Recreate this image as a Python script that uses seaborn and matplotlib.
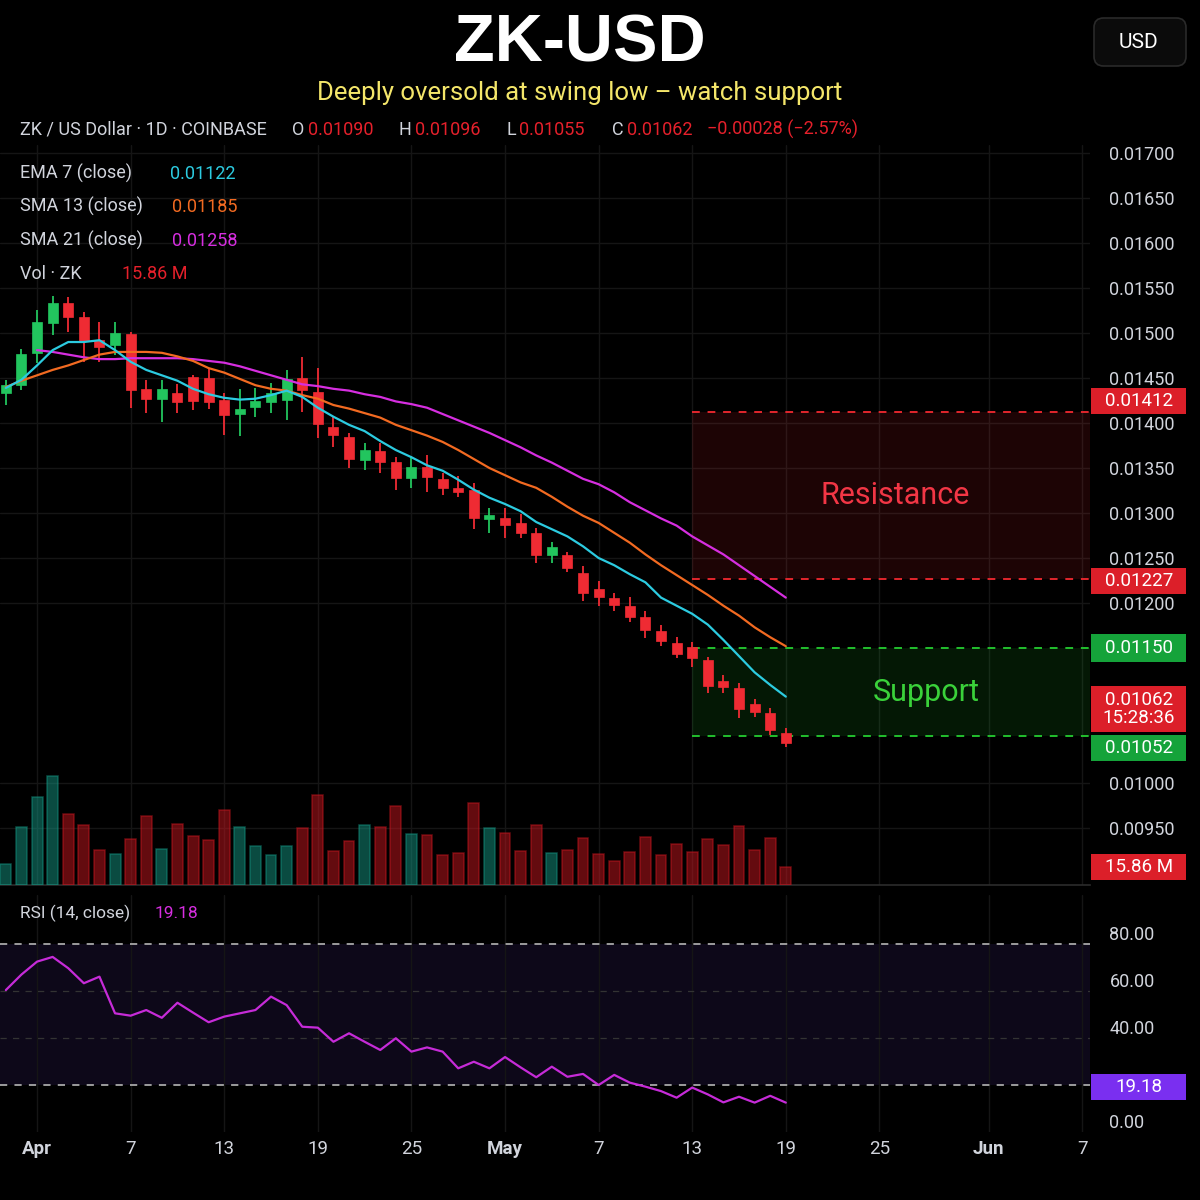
import matplotlib
matplotlib.use("Agg")
import matplotlib.pyplot as plt
from matplotlib.patches import Rectangle, FancyBboxPatch
from matplotlib.transforms import blended_transform_factory, Affine2D
import numpy as np
import pandas as pd
import seaborn as sns

# ZK-USD daily candles
dates = pd.date_range("2025-03-30", "2025-05-19", freq="D")

opens = [0.01433, 0.01442, 0.01478, 0.01511, 0.01533, 0.01518, 0.01492, 0.01487, 0.01499, 0.01438,
         0.01427, 0.01433, 0.01451, 0.01450, 0.01426, 0.01410, 0.01418, 0.01423, 0.01426, 0.01450,
         0.01434, 0.01396, 0.01384, 0.01359, 0.01369, 0.01357, 0.01339, 0.01351, 0.01338, 0.01328,
         0.01326, 0.01293, 0.01294, 0.01289, 0.01278, 0.01253, 0.01253, 0.01233, 0.01216, 0.01206,
         0.01197, 0.01184, 0.01169, 0.01156, 0.01151, 0.01137, 0.01113, 0.01106, 0.01088, 0.01078,
         0.01056]
highs = [0.01448, 0.01482, 0.01526, 0.01541, 0.01540, 0.01523, 0.01512, 0.01512, 0.01501, 0.01448,
         0.01448, 0.01443, 0.01453, 0.01460, 0.01433, 0.01438, 0.01439, 0.01444, 0.01459, 0.01473,
         0.01461, 0.01408, 0.01389, 0.01378, 0.01378, 0.01362, 0.01363, 0.01364, 0.01344, 0.01341,
         0.01333, 0.01306, 0.01306, 0.01299, 0.01283, 0.01268, 0.01257, 0.01241, 0.01224, 0.01211,
         0.01207, 0.01191, 0.01176, 0.01162, 0.01157, 0.01140, 0.01120, 0.01111, 0.01093, 0.01083,
         0.01061]
lows = [0.01420, 0.01437, 0.01467, 0.01498, 0.01501, 0.01468, 0.01468, 0.01476, 0.01417, 0.01411,
        0.01401, 0.01411, 0.01414, 0.01416, 0.01387, 0.01386, 0.01407, 0.01411, 0.01403, 0.01412,
        0.01383, 0.01373, 0.01350, 0.01348, 0.01344, 0.01326, 0.01328, 0.01323, 0.01320, 0.01318,
        0.01282, 0.01278, 0.01272, 0.01272, 0.01244, 0.01244, 0.01234, 0.01202, 0.01197, 0.01191,
        0.01179, 0.01161, 0.01152, 0.01139, 0.01129, 0.01100, 0.01100, 0.01072, 0.01073, 0.01053,
        0.01040]
closes = [0.01442, 0.01477, 0.01512, 0.01533, 0.01518, 0.01491, 0.01484, 0.01500, 0.01437, 0.01427,
          0.01438, 0.01423, 0.01424, 0.01423, 0.01409, 0.01416, 0.01424, 0.01433, 0.01449, 0.01437,
          0.01399, 0.01387, 0.01360, 0.01370, 0.01357, 0.01339, 0.01351, 0.01340, 0.01328, 0.01323,
          0.01294, 0.01298, 0.01287, 0.01278, 0.01253, 0.01262, 0.01239, 0.01211, 0.01207, 0.01198,
          0.01184, 0.01170, 0.01158, 0.01143, 0.01139, 0.01108, 0.01107, 0.01082, 0.01079, 0.01059,
          0.01044]

# moving averages as drawn on the chart
ema7 = [0.01439, 0.01448, 0.01464, 0.01481, 0.01490, 0.01490, 0.01492, 0.01481, 0.01468, 0.01459,
        0.01453, 0.01447, 0.01438, 0.01432, 0.01428, 0.01426, 0.01427, 0.01431, 0.01436, 0.01429,
        0.01417, 0.01407, 0.01398, 0.01391, 0.01380, 0.01370, 0.01362, 0.01353, 0.01347, 0.01337,
        0.01326, 0.01317, 0.01310, 0.01302, 0.01290, 0.01282, 0.01274, 0.01263, 0.01250, 0.01242,
        0.01232, 0.01223, 0.01206, 0.01197, 0.01188, 0.01176, 0.01159, 0.01141, 0.01123, 0.01109,
        0.01096]
sma13 = [0.01440, 0.01447, 0.01453, 0.01459, 0.01464, 0.01470, 0.01476, 0.01479, 0.01479, 0.01479,
         0.01478, 0.01474, 0.01469, 0.01461, 0.01456, 0.01449, 0.01442, 0.01438, 0.01436, 0.01431,
         0.01427, 0.01420, 0.01416, 0.01411, 0.01406, 0.01398, 0.01392, 0.01386, 0.01379, 0.01370,
         0.01360, 0.01350, 0.01342, 0.01334, 0.01328, 0.01318, 0.01307, 0.01297, 0.01289, 0.01278,
         0.01267, 0.01254, 0.01242, 0.01231, 0.01220, 0.01209, 0.01197, 0.01186, 0.01173, 0.01162,
         0.01152]
sma21 = [np.nan, np.nan,
         0.01481, 0.01479, 0.01476, 0.01473, 0.01471, 0.01471, 0.01472, 0.01472, 0.01472, 0.01472,
         0.01471, 0.01469, 0.01467, 0.01463, 0.01458, 0.01453, 0.01448, 0.01443, 0.01441, 0.01438,
         0.01436, 0.01432, 0.01429, 0.01424, 0.01421, 0.01417, 0.01410, 0.01403, 0.01396, 0.01389,
         0.01381, 0.01373, 0.01364, 0.01356, 0.01347, 0.01338, 0.01332, 0.01323, 0.01312, 0.01303,
         0.01294, 0.01286, 0.01274, 0.01264, 0.01254, 0.01242, 0.01230, 0.01218, 0.01206]

volume_m = [18.5, 51.1, 77.5, 96.0, 62.6, 52.9, 30.8, 27.3, 40.5, 60.8,
            31.7, 53.7, 43.2, 39.6, 66.1, 51.1, 34.4, 26.4, 34.4, 50.2,
            79.3, 30.0, 38.8, 52.9, 51.1, 69.6, 44.9, 44.1, 26.4, 28.2,
            72.2, 50.2, 45.8, 30.0, 52.9, 28.2, 30.8, 41.4, 27.3, 21.1,
            29.1, 42.3, 26.4, 36.1, 29.1, 40.5, 35.2, 52.0, 30.8, 41.4,
            15.86]

rsi = [60.4, 67.0, 72.5, 74.5, 69.7, 63.3, 66.1, 50.5, 49.5, 51.9,
       48.6, 55.0, 50.8, 46.7, 49.1, 50.5, 51.9, 57.6, 54.0, 44.8,
       44.4, 38.4, 42.0, 38.4, 34.9, 39.9, 34.2, 36.0, 34.2, 27.1,
       29.9, 27.1, 31.9, 27.5, 23.3, 27.8, 23.5, 24.7, 20.0, 24.3,
       21.0, 19.3, 17.4, 14.6, 18.9, 16.0, 12.6, 15.0, 12.5, 15.4,
       12.5]

tick_dates = pd.to_datetime(["2025-04-01", "2025-04-07", "2025-04-13", "2025-04-19", "2025-04-25",
                             "2025-05-01", "2025-05-07", "2025-05-13", "2025-05-19", "2025-05-25",
                             "2025-06-01", "2025-06-07"])
price_ticks = [0.0095, 0.0100, 0.0120, 0.0125, 0.0130, 0.0135, 0.0140,
               0.0145, 0.0150, 0.0155, 0.0160, 0.0165, 0.0170]
rsi_ticks = [0, 40, 60, 80]   # 20 sits under the RSI value tag
rsi_bands = (20, 80)

resistance = (0.01227, 0.01412)
support = (0.01052, 0.01150)
zone_start = pd.Timestamp("2025-05-13")
last_price = 0.01062
last_vol = 15.86
last_rsi = 19.18

df = pd.DataFrame({"date": dates, "open": opens, "high": highs, "low": lows, "close": closes,
                   "ema7": ema7, "sma13": sma13, "sma21": sma21, "vol": volume_m, "rsi": rsi})

# colours
BG = "#000000"
TXT = "#d1d4dc"
GRID = "#151515"
UP = "#22c55e"
DOWN = "#ef2b33"
EMA_C = "#2ccbe0"
SMA13_C = "#f26a21"
SMA21_C = "#d62ee0"
RED_TAG = "#dc1f29"
GREEN_TAG = "#15a33a"
RED_TXT = "#e5202b"

sns.set_theme(style="dark", rc={"axes.facecolor": BG, "figure.facecolor": BG,
                                "grid.color": GRID, "text.color": TXT,
                                "xtick.color": TXT, "ytick.color": TXT})
plt.rcParams["font.family"] = ["Roboto", "DejaVu Sans"]

W = H = 1200
fig = plt.figure(figsize=(12, 12), dpi=100)


def fx(x):
    return x / W


def fy(y):
    return 1 - y / H


ax = fig.add_axes([0, fy(885), fx(1090), (885 - 145) / H])
axv = ax.twinx()
axr = fig.add_axes([0, fy(1132), fx(1090), (1132 - 895) / H], sharex=ax)

x_left = dates[0] - pd.Timedelta(hours=9)
x_right = pd.Timestamp("2025-06-07 12:00")

# zones
for (lo, hi), c in [(resistance, "#e3262d"), (support, "#22c02e")]:
    ax.fill_between([zone_start, x_right], lo, hi, color=c, alpha=0.13, lw=0, zorder=1)
    ax.hlines([lo, hi], zone_start, x_right, colors=c, linestyles=(0, (4, 4)), lw=1.4, zorder=2)

# candles
up = df["close"] >= df["open"]
cols = np.where(up, UP, DOWN)
ax.vlines(df["date"], df["low"], df["high"], colors=cols, lw=1.3, zorder=3)
body = (df["close"] - df["open"]).abs().clip(lower=0.00003)
ax.bar(df["date"], body, bottom=np.minimum(df["open"], df["close"]), width=0.64,
       color=cols, edgecolor=cols, lw=0.5, zorder=4)

# moving averages
sns.lineplot(data=df, x="date", y="sma21", ax=ax, color=SMA21_C, lw=1.6, zorder=5)
sns.lineplot(data=df, x="date", y="sma13", ax=ax, color=SMA13_C, lw=1.6, zorder=5)
sns.lineplot(data=df, x="date", y="ema7", ax=ax, color=EMA_C, lw=1.6, zorder=6)

ax.text(pd.Timestamp("2025-05-26"), sum(resistance) / 2, "Resistance", color="#f23645",
        fontsize=22, ha="center", va="center", zorder=6)
ax.text(pd.Timestamp("2025-05-28"), sum(support) / 2, "Support", color="#3ad13a",
        fontsize=22, ha="center", va="center", zorder=6)

# volume
vcols = np.where(up, "#149683", "#c8161f")
axv.bar(df["date"], df["vol"], width=0.7, color=vcols, alpha=0.5, edgecolor=vcols, lw=1.1, zorder=2)
axv.set_ylim(0, 652)
axv.set_yticks([])
axv.grid(False)
for s in axv.spines.values():
    s.set_visible(False)

ax.set_ylim(0.008867, 0.017089)
ax.set_xlim(x_left, x_right)
ax.yaxis.tick_right()
ax.set_yticks(price_ticks)
ax.set_yticklabels([f"{v:.5f}" for v in price_ticks])
ax.tick_params(axis="y", length=0, pad=14, labelsize=13, labelcolor=TXT)
ax.tick_params(axis="x", length=0, labelbottom=False)
ax.set_xticks(tick_dates)
ax.grid(True, color=GRID, lw=1)
ax.set_axisbelow(True)
ax.set_xlabel("")
ax.set_ylabel("")
for name, s in ax.spines.items():
    s.set_visible(name == "bottom")
ax.spines["bottom"].set_color("#2c2c2c")
ax.spines["bottom"].set_linewidth(1.2)


def tag(axis, y, label, fc, h_px=28, dy_px=0):
    # price-scale label box; dy_px nudges it up (+) or down (-) to clear neighbours
    lo, hi = axis.get_ylim()
    unit = (hi - lo) / axis.bbox.height
    yc = y + dy_px * unit
    box_tr = blended_transform_factory(axis.transAxes + Affine2D().translate(1, 0), axis.transData)
    axis.add_patch(Rectangle((1.0, yc - h_px * unit / 2), 95 / 1090, h_px * unit,
                             transform=box_tr, fc=fc, ec="none", clip_on=False, zorder=20))
    tr = blended_transform_factory(axis.transAxes, axis.transData)
    axis.text(1 + 49 / 1090, yc, label, transform=tr, ha="center", va="center",
              color="white", fontsize=13.5, clip_on=False, zorder=21, linespacing=1.0)


tag(ax, resistance[1], "0.01412", RED_TAG, h_px=26, dy_px=11.5)
tag(ax, resistance[0], "0.01227", RED_TAG, h_px=26, dy_px=-2)
tag(ax, support[1], "0.01150", GREEN_TAG)
tag(ax, last_price, f"{last_price:.5f}\n15:28:36", RED_TAG, h_px=46, dy_px=18)
tag(ax, support[0], "0.01052", GREEN_TAG, h_px=26, dy_px=-12)
tag(axv, last_vol, "15.86 M", RED_TAG, h_px=26)

# RSI panel
axr.axhspan(*rsi_bands, color="#120b22", alpha=0.75, lw=0, zorder=0)
for lvl in rsi_bands:
    axr.axhline(lvl, color="#a8a8a8", ls=(0, (4, 4)), lw=1.3, zorder=1)
for lvl in (60, 40):
    axr.axhline(lvl, color="#333333", ls=(0, (5, 5)), lw=0.9, zorder=1)
sns.lineplot(data=df, x="date", y="rsi", ax=axr, color="#c62bd8", lw=1.6, zorder=3)
axr.set_ylim(0, 100.85)
axr.yaxis.tick_right()
axr.set_yticks(rsi_ticks)
axr.set_yticklabels([f"{v:.2f}" for v in rsi_ticks])
for lbl in axr.get_yticklabels():
    lbl.set_verticalalignment("bottom")
axr.tick_params(axis="y", length=0, pad=14, labelsize=13, labelcolor=TXT)
axr.set_xticks(tick_dates)
axr.set_xticklabels([d.strftime("%b") if d.day == 1 else str(d.day) for d in tick_dates])
for lbl, d in zip(axr.get_xticklabels(), tick_dates):
    if d.day == 1:
        lbl.set_fontweight("bold")
axr.tick_params(axis="x", length=0, pad=6, labelsize=13.5, labelcolor=TXT)
axr.set_xlim(x_left, x_right)
axr.grid(True, axis="x", color=GRID, lw=1)
axr.grid(False, axis="y")
axr.set_xlabel("")
axr.set_ylabel("")
for s in axr.spines.values():
    s.set_visible(False)

tag(axr, last_rsi, "19.18", "#7a2ff0", h_px=26)

# header
fig.text(fx(580), fy(61), "ZK-USD", ha="center", va="baseline", fontsize=48,
         fontweight="bold", color="white", family="Liberation Sans")
fig.text(fx(580), fy(100), "Deeply oversold at swing low \u2013 watch support", ha="center",
         va="baseline", fontsize=18.5, color="#f4e66a")

btn = FancyBboxPatch((fx(1094), fy(66)), fx(92), 48 / H, boxstyle="round,pad=0,rounding_size=0.008",
                     transform=fig.transFigure, fc="#0b0b0b", ec="#2a2a2a", lw=1.2)
fig.patches.append(btn)
fig.text(fx(1138), fy(43), "USD", ha="center", va="center", fontsize=15, color="white")

info = [(20, "ZK / US Dollar \u00b7 1D \u00b7 COINBASE", TXT),
        (292, "O", TXT), (308, "0.01090", RED_TXT),
        (399, "H", TXT), (415, "0.01096", RED_TXT),
        (507, "L", TXT), (519, "0.01055", RED_TXT),
        (612, "C", TXT), (627, "0.01062", RED_TXT),
        (707, "\u22120.00028 (\u22122.57%)", RED_TXT)]
for x, s, c in info:
    fig.text(fx(x), fy(135), s, ha="left", va="baseline", fontsize=13, color=c)

legend = [(179, "EMA 7 (close)", "0.01122", EMA_C, 170),
          (212, "SMA 13 (close)", "0.01185", SMA13_C, 172),
          (246, "SMA 21 (close)", "0.01258", SMA21_C, 172),
          (279, "Vol \u00b7 ZK", "15.86 M", RED_TXT, 122)]
for y, name, val, c, xv in legend:
    fig.text(fx(20), fy(y), name, ha="left", va="baseline", fontsize=13, color=TXT)
    fig.text(fx(xv), fy(y), val, ha="left", va="baseline", fontsize=13, color=c)

fig.text(fx(20), fy(918), "RSI (14, close)", ha="left", va="baseline", fontsize=12.5, color=TXT)
fig.text(fx(155), fy(918), f"{last_rsi:.2f}", ha="left", va="baseline", fontsize=12.5, color=SMA21_C)

fig.savefig("out.png", dpi=100, facecolor=BG)
